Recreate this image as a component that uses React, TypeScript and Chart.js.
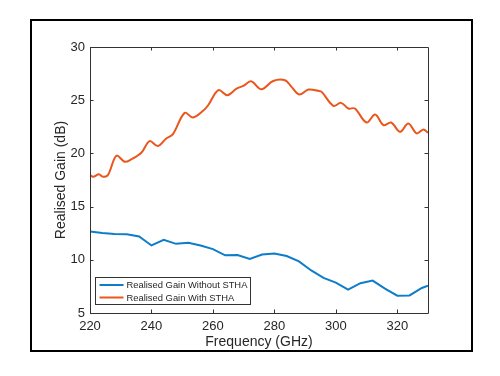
import React, { useEffect, useRef } from "react";
import { Chart, registerables } from "chart.js";

Chart.register(...registerables);

// Realised gain without STHA (dB) vs frequency (GHz)
const withoutFreq = [220, 224, 228, 232, 236, 240, 244, 248, 252, 256, 260, 264, 268, 272, 276, 280, 284, 288, 292, 296, 300, 304, 308, 312, 316, 320, 324, 328, 330];
const withoutGain = [12.66, 12.52, 12.42, 12.41, 12.19, 11.35, 11.88, 11.5, 11.6, 11.35, 11.0, 10.42, 10.45, 10.07, 10.5, 10.6, 10.35, 9.85, 9.0, 8.3, 7.85, 7.2, 7.8, 8.05, 7.3, 6.63, 6.65, 7.35, 7.57];

// Realised gain with STHA (dB) vs frequency (GHz)
const withFreq = [220, 221, 222.9, 224.2, 225.9, 228.6, 231.3, 233.4, 236.7, 239.4, 242.1, 244.8, 247, 250.8, 253.5, 256.8, 258.4, 261.8, 264.7, 267.7, 269.9, 272.4, 275.8, 279.6, 283.5, 285.6, 288.1, 291.1, 294.3, 295.4, 299.2, 301.7, 304.1, 306.2, 310, 312.8, 315.5, 318, 320.9, 323.6, 326.3, 328.5, 330];
const withGain = [17.97, 17.8, 18.03, 17.8, 18.0, 19.78, 19.22, 19.44, 20.06, 21.16, 20.69, 21.4, 21.81, 23.81, 23.37, 24.0, 24.5, 25.94, 25.47, 26.09, 26.34, 26.78, 26.03, 26.81, 26.88, 26.25, 25.53, 26.0, 25.88, 25.78, 24.47, 24.75, 24.22, 24.22, 22.9, 23.66, 22.66, 22.9, 22.03, 22.81, 21.88, 22.25, 21.94];

const xTicks = [220, 240, 260, 280, 300, 320];
const yTicks = [5, 10, 15, 20, 25, 30];

const seriesLabels = ["Realised Gain Without STHA", "Realised Gain With STHA"];
const xTitle = "Frequency (GHz)";
const yTitle = "Realised Gain (dB)";

const FONT = "'Liberation Sans', Arial, Helvetica, sans-serif";
const BLUE = "#0D7DC9";
const ORANGE = "#EA561C";
const AXIS = "#333333";
const TEXT = "#262626";

const matlabPlugin = {
  id: "matlabAxes",
  afterDatasetsDraw(chart: any) {
    const { ctx, chartArea, scales } = chart;
    const { left, right, top, bottom } = chartArea;
    ctx.save();
    ctx.strokeStyle = AXIS;
    ctx.lineWidth = 1;
    // box
    ctx.beginPath();
    ctx.rect(Math.round(left) + 0.5, Math.round(top) + 0.5, Math.round(right - left), Math.round(bottom - top));
    ctx.stroke();
    // inward ticks
    const tl = 3.5;
    ctx.beginPath();
    xTicks.forEach((v) => {
      const x = Math.round(scales.x.getPixelForValue(v)) + 0.5;
      ctx.moveTo(x, bottom);
      ctx.lineTo(x, bottom - tl);
      ctx.moveTo(x, top);
      ctx.lineTo(x, top + tl);
    });
    yTicks.forEach((v) => {
      const y = Math.round(scales.y.getPixelForValue(v)) + 0.5;
      ctx.moveTo(left, y);
      ctx.lineTo(left + tl, y);
      ctx.moveTo(right, y);
      ctx.lineTo(right - tl, y);
    });
    ctx.stroke();

    // legend box
    const bx = Math.round(left + 5) + 0.5;
    const by = Math.round(bottom - 36.5) + 0.5;
    const bw = 155;
    const bh = 27;
    ctx.fillStyle = "#ffffff";
    ctx.fillRect(bx, by, bw, bh);
    ctx.strokeStyle = AXIS;
    ctx.strokeRect(bx, by, bw, bh);
    const colors = [BLUE, ORANGE];
    ctx.font = `9.4px ${FONT}`;
    ctx.textBaseline = "middle";
    ctx.textAlign = "left";
    seriesLabels.forEach((lab, i) => {
      const y = by + 7.5 + i * 12.5;
      ctx.strokeStyle = colors[i];
      ctx.lineWidth = 2;
      ctx.beginPath();
      ctx.moveTo(bx + 4, y);
      ctx.lineTo(bx + 28, y);
      ctx.stroke();
      ctx.fillStyle = TEXT;
      ctx.fillText(lab, bx + 31, y + 0.5);
    });
    ctx.restore();
  },
};

export default function App() {
  const ref = useRef<HTMLCanvasElement | null>(null);

  useEffect(() => {
    if (!ref.current) return;
    const chart = new Chart(ref.current, {
      type: "line",
      data: {
        datasets: [
          {
            label: seriesLabels[0],
            data: withoutFreq.map((f, i) => ({ x: f, y: withoutGain[i] })),
            borderColor: BLUE,
            backgroundColor: BLUE,
            borderWidth: 2,
            pointRadius: 0,
            tension: 0,
            fill: false,
          },
          {
            label: seriesLabels[1],
            data: withFreq.map((f, i) => ({ x: f, y: withGain[i] })),
            borderColor: ORANGE,
            backgroundColor: ORANGE,
            borderWidth: 2,
            pointRadius: 0,
            tension: 0.35,
            fill: false,
          },
        ],
      },
      options: {
        animation: false,
        responsive: false,
        devicePixelRatio: 1,
        layout: { padding: { left: 40, right: 72, top: 47, bottom: 20 } },
        plugins: {
          legend: { display: false },
          tooltip: { enabled: false },
        },
        scales: {
          x: {
            type: "linear",
            min: 220,
            max: 330,
            afterBuildTicks: (s: any) => {
              s.ticks = xTicks.map((v) => ({ value: v }));
            },
            afterFit: (s: any) => {
              s.height = 43;
            },
            grid: { display: false, drawTicks: false },
            border: { display: false },
            ticks: {
              padding: 6,
              color: TEXT,
              font: { family: FONT, size: 13 },
              maxRotation: 0,
              autoSkip: false,
            },
            title: {
              display: true,
              text: xTitle,
              color: TEXT,
              font: { family: FONT, size: 14 },
              padding: { top: 0, bottom: 5 },
            },
          },
          y: {
            type: "linear",
            min: 5,
            max: 30,
            afterBuildTicks: (s: any) => {
              s.ticks = yTicks.map((v) => ({ value: v }));
            },
            afterFit: (s: any) => {
              s.width = 50;
            },
            grid: { display: false, drawTicks: false },
            border: { display: false },
            ticks: {
              padding: 5,
              color: TEXT,
              font: { family: FONT, size: 13 },
              autoSkip: false,
            },
            title: {
              display: true,
              text: yTitle,
              color: TEXT,
              font: { family: FONT, size: 14 },
              padding: { top: 12.6, bottom: 0 },
            },
          },
        },
      },
      plugins: [matlabPlugin],
    });
    return () => chart.destroy();
  }, []);

  return (
    <div style={{ position: "fixed", left: 0, top: 0, width: 500, height: 376, background: "#fff" }}>
      <div
        style={{
          position: "absolute",
          left: 30,
          top: 19,
          width: 443,
          height: 333,
          boxSizing: "border-box",
          border: "2px solid #000",
        }}
      />
      <canvas ref={ref} width={500} height={376} style={{ position: "absolute", left: 0, top: 0, display: "block" }} />
    </div>
  );
}
